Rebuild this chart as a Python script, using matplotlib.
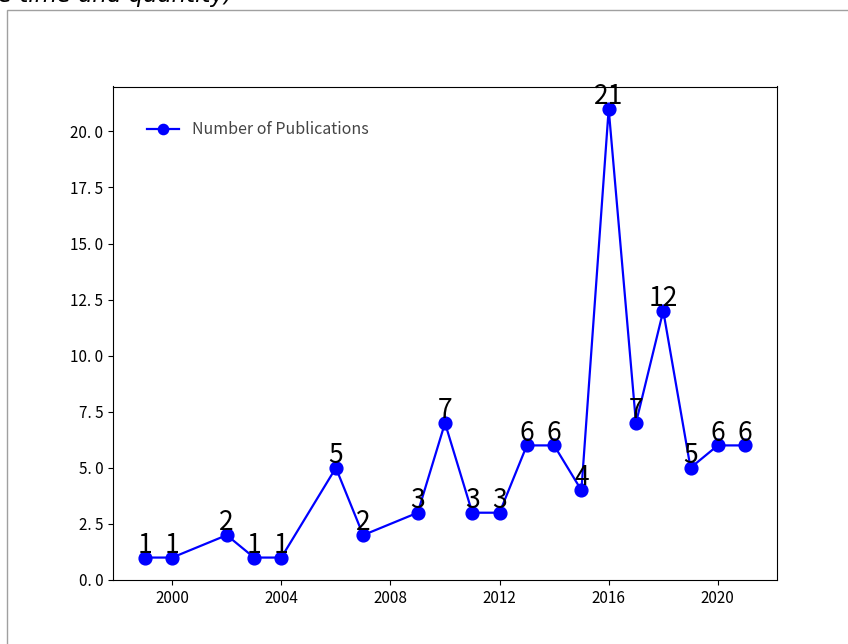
import matplotlib
matplotlib.use("Agg")
from matplotlib import pyplot as plt
from matplotlib.patches import Rectangle

plt.rcParams['font.family'] = ['Noto Sans CJK SC', 'DejaVu Sans']
plt.rcParams['axes.unicode_minus'] = False

# Publications per year
years = [1999, 2000, 2002, 2003, 2004, 2006, 2007, 2009, 2010, 2011,
         2012, 2013, 2014, 2015, 2016, 2017, 2018, 2019, 2020, 2021]
counts = [1, 1, 2, 1, 1, 5, 2, 3, 7, 3,
          3, 6, 6, 4, 21, 7, 12, 5, 6, 6]
series_label = "Number of Publications"
caption = "e time and quantity)"

fig = plt.figure(figsize=(8.48, 6.44), dpi=100)
ax = fig.add_axes([113 / 848, 1 - 580 / 644, 664 / 848, 493.5 / 644])

# screenshot frame around the figure
fig.patches.append(Rectangle((6.5 / 848, -0.1), 1.2, 1 - 10.5 / 644 + 0.1,
                             transform=fig.transFigure, fill=False,
                             edgecolor='#a0a0a0', lw=1.0))
# caption of the page, cut off by the screenshot
fig.text(-2 / 848, 1 - 2 / 644, caption, fontsize=16.5, style='italic',
         family=['DejaVu Sans'], va='baseline', ha='left')

ax.plot(years, counts, color='blue', marker='o', markersize=9.2, lw=1.6,
        label=series_label)
for x, y in zip(years, counts):
    ax.text(x, y - 0.05, str(y), ha='center', va='bottom', fontsize=19)

ax.set_xlim(1997.83, 2022.17)
ax.set_ylim(0, 22)
ax.set_xticks([2000, 2004, 2008, 2012, 2016, 2020])
ax.tick_params(labelsize=11)
ax.yaxis.set_major_formatter(plt.FuncFormatter(lambda v, p: f"{v:.1f}".replace('.', '. ')))
ax.legend(loc='upper left', frameon=False, fontsize=11.5, labelcolor='#444444',
          markerscale=0.8, handlelength=2.0, bbox_to_anchor=(0.030, 0.959))

fig.savefig("out.png", dpi=100)
